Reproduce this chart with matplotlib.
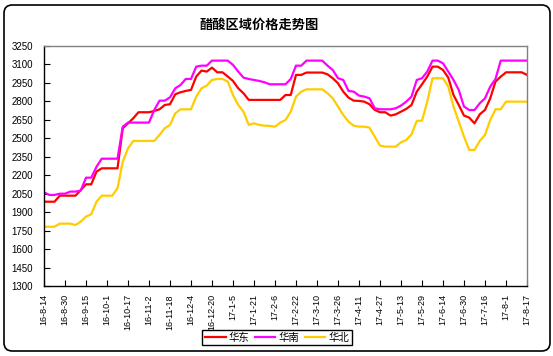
import matplotlib
matplotlib.use("Agg")
import matplotlib.pyplot as plt
import numpy as np
import pandas as pd
from matplotlib.patches import FancyBboxPatch

plt.rcParams['font.family'] = ['Liberation Sans', 'Noto Sans CJK SC', 'DejaVu Sans']

# prices sampled every 4 days from 2016-08-14
start = '2016-08-14'
east = [1984, 1984, 1984, 2033, 2033, 2033, 2033, 2079, 2125, 2125, 2228, 2255, 2255, 2255, 2255, 2580,
        2620, 2661, 2710, 2710, 2710, 2720, 2734, 2769, 2775, 2856, 2872, 2883, 2891, 3000, 3048,
        3040, 3072, 3034, 3034, 3000, 2964, 2904, 2864, 2810, 2810, 2810, 2810, 2810, 2810, 2810,
        2850, 2850, 3013, 3013, 3032, 3032, 3032, 3032, 3018, 2986, 2945, 2877, 2829, 2804, 2802,
        2796, 2775, 2729, 2710, 2710, 2683, 2693, 2715, 2737, 2769, 2877, 2937, 2999, 3080, 3080,
        3053, 2991, 2850, 2769, 2683, 2666, 2620, 2693, 2729, 2823, 2959, 2999, 3034, 3034, 3034, 3034, 3013]
south = [2060, 2039, 2039, 2049, 2049, 2066, 2066, 2074, 2179, 2179, 2268, 2333, 2333, 2333, 2333, 2593,
         2626, 2626, 2626, 2626, 2626, 2728, 2804, 2804, 2831, 2904, 2931, 2980, 2980, 3080, 3088,
         3088, 3129, 3129, 3129, 3129, 3094, 3040, 2991, 2980, 2972, 2964, 2953, 2937, 2937, 2937,
         2937, 2980, 3088, 3088, 3129, 3129, 3129, 3129, 3088, 3053, 2986, 2972, 2883, 2877, 2845,
         2837, 2823, 2742, 2734, 2734, 2734, 2742, 2764, 2796, 2837, 2972, 2986, 3040, 3129, 3129,
         3107, 3040, 2972, 2891, 2756, 2728, 2728, 2783, 2823, 2918, 2980, 3129, 3129, 3129, 3129, 3129, 3129]
north = [1781, 1781, 1781, 1806, 1806, 1806, 1795, 1822, 1863, 1882, 1984, 2033, 2033, 2033, 2093, 2309,
         2417, 2477, 2477, 2477, 2477, 2477, 2526, 2580, 2607, 2701, 2734, 2734, 2734, 2837, 2904,
         2926, 2972, 2980, 2980, 2959, 2850, 2769, 2715, 2607, 2620, 2607, 2601, 2599, 2593, 2626,
         2647, 2715, 2837, 2877, 2896, 2896, 2896, 2896, 2864, 2823, 2756, 2688, 2634, 2601, 2593,
         2593, 2585, 2512, 2439, 2431, 2431, 2431, 2466, 2485, 2531, 2639, 2642, 2796, 2986, 2986,
         2986, 2918, 2756, 2634, 2512, 2404, 2404, 2477, 2526, 2647, 2734, 2734, 2796, 2796, 2796, 2796, 2796]
names = ['华东', '华南', '华北']
colors = ['#FF0000', '#FF00FF', '#FFCC00']

dates = pd.date_range(start, periods=len(east), freq='4D')
tick_dates = pd.date_range(start, dates[-1], freq='16D')
tick_labels = [f"{d.year % 100}-{d.month}-{d.day}" for d in tick_dates]

W, H = 553, 356
fig = plt.figure(figsize=(W / 100, H / 100), dpi=100)
ax = fig.add_axes([44 / W, 1 - 286 / H, 483 / W, 240.3 / H])

for vals, name, c in zip([east, south, north], names, colors):
    ax.plot(dates, vals, color=c, lw=1.6, label=name)

ax.set_ylim(1300, 3250)
ax.set_yticks(np.arange(1300, 3251, 150))
ax.set_xlim(dates[0], dates[-1])
ax.set_xticks(tick_dates)
ax.set_xticklabels(tick_labels, rotation=90, fontsize=6.5)
ax.tick_params(axis='y', labelsize=7, direction='in', length=4, width=0.8, pad=8)
ax.tick_params(axis='x', direction='in', length=4, width=0.8, pad=6)

for s in ['left', 'bottom']:
    ax.spines[s].set_color('black')
    ax.spines[s].set_linewidth(1)
for s in ['top', 'right']:
    ax.spines[s].set_color('#808080')
    ax.spines[s].set_linewidth(1)

fig.text(259 / W, 1 - 25 / H, '醋酸区域价格走势图', ha='center', va='center',
         fontsize=9.5, fontweight='bold')

leg = ax.legend(loc='center', bbox_to_anchor=(277 / W, 1 - 337.5 / H),
                bbox_transform=fig.transFigure, ncol=3, fontsize=7.5,
                fancybox=False, edgecolor='black', framealpha=1,
                handlelength=2.0, columnspacing=0.5, handletextpad=0.3,
                borderpad=0.25)
leg.get_frame().set_linewidth(1)

fig.patches.append(FancyBboxPatch((4 / W, 5 / H), 546 / W, 346 / H,
                                  boxstyle='round,pad=0,rounding_size=0.015',
                                  mutation_aspect=W / H, transform=fig.transFigure,
                                  fill=False, ec='black', lw=1.2))

fig.savefig('out.png', dpi=100)
